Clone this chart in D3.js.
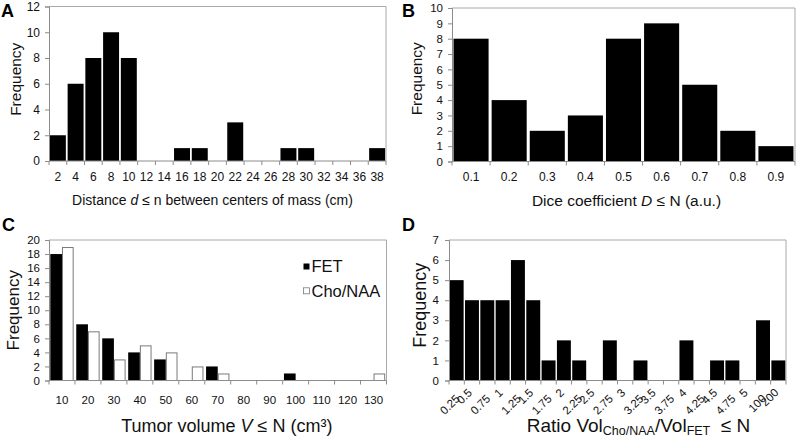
<!DOCTYPE html>
<html><head><meta charset="utf-8">
<script src="https://cdn.jsdelivr.net/npm/d3@7"></script>
<style>
html,body{margin:0;padding:0;background:#fff;}
svg{display:block;font-family:"Liberation Sans",Arial,sans-serif;}
</style></head>
<body><svg id="c" width="797" height="437"></svg>
<script>
// ---- data ----
const distCategories = ["2","4","6","8","10","12","14","16","18","20","22","24","26","28","30","32","34","36","38"];
const distFreq = [2,6,8,10,8,0,0,1,1,0,3,0,0,1,1,0,0,0,1];
const distYTicks = [0,2,4,6,8,10,12];

const diceCategories = ["0.1","0.2","0.3","0.4","0.5","0.6","0.7","0.8","0.9"];
const diceFreq = [8,4,2,3,8,9,5,2,1];
const diceYTicks = [0,1,2,3,4,5,6,7,8,9,10];

const volCategories = ["10","20","30","40","50","60","70","80","90","100","110","120","130"];
const volFET = [18,8,6,4,3,0,2,0,0,1,0,0,0];
const volCho = [19,7,3,5,4,2,1,0,0,0,0,0,1];
const volYTicks = [0,2,4,6,8,10,12,14,16,18,20];
const volSeries = ["FET","Cho/NAA"];

const ratioCategories = ["0.25","0.5","0.75","1","1.25","1.5","1.75","2","2.25","2.5","2.75","3","3.25","3.5","3.75","4","4.25","4.5","4.75","5","100","200"];
const ratioFreq = [5,4,4,4,6,4,1,2,1,0,2,0,1,0,0,2,0,1,1,0,3,1];
const ratioYTicks = [0,1,2,3,4,5,6,7];

const svg = d3.select("#c");
const AXIS = "#8c8c8c", BORDER = "#a8a8a8", TXT = "#111";

function panel(p){
  const g = svg.append("g");
  const x = d3.scaleBand().domain(p.cats).range([p.left,p.right]).paddingInner(p.pad).paddingOuter(p.pad/2);
  const y = d3.scaleLinear().domain([0,p.yTicks[p.yTicks.length-1]]).range([p.bottom,p.top]);
  // plot border (top/right)
  g.append("path").attr("d",`M${p.left},${p.top}H${p.right}V${p.bottom}`)
    .attr("fill","none").attr("stroke",BORDER).attr("stroke-width",1);
  // bars
  p.series.forEach((s,si)=>{
    const sub = d3.scaleBand().domain(d3.range(p.series.length)).range([0,x.bandwidth()]);
    const hollow = s.fill==="#fff";
    g.selectAll(null).data(s.values.map((v,i)=>({c:p.cats[i],v}))).join("rect")
      .filter(d=>d.v>0)
      .attr("x",d=>x(d.c)+sub(si)+(hollow?0.5:0))
      .attr("width",sub.bandwidth()-(hollow?1:0))
      .attr("y",d=>y(d.v)+(hollow?0.5:0))
      .attr("height",d=>p.bottom-y(d.v)-(hollow?0.5:0))
      .attr("fill",s.fill).attr("stroke",hollow?"#7a7a7a":"none").attr("stroke-width",1);
  });
  // y axis
  const ya = g.append("g").attr("transform",`translate(${p.left},0)`)
    .call(d3.axisLeft(y).tickValues(p.yTicks).tickSize(4).tickPadding(p.yPad).tickFormat(d3.format("d")));
  ya.select(".domain").attr("stroke",AXIS);
  ya.selectAll(".tick line").attr("stroke",AXIS);
  ya.selectAll(".tick text").attr("fill",TXT).style("font-size",p.yFont+"px").style("font-family","'Liberation Sans',Arial,sans-serif");
  // x axis: line + ticks at category boundaries
  const bx = d3.scaleLinear().domain([0,p.cats.length]).range([p.left,p.right]);
  g.append("line").attr("x1",p.left).attr("x2",p.right).attr("y1",p.bottom).attr("y2",p.bottom).attr("stroke",AXIS);
  g.selectAll(null).data(d3.range(p.cats.length+1)).join("line")
    .attr("x1",d=>bx(d)).attr("x2",d=>bx(d)).attr("y1",p.bottom).attr("y2",p.bottom+4).attr("stroke",AXIS);
  // x labels
  if(!p.rotate){
    g.selectAll(null).data(p.cats).join("text")
      .attr("x",d=>x(d)+x.bandwidth()/2).attr("y",p.xLabY).attr("text-anchor","middle")
      .attr("fill",TXT).style("font-size",p.xFont+"px").text(d=>d);
  } else {
    g.selectAll(null).data(p.cats).join("text")
      .attr("transform",(d,i)=>{
        const cx = x(d)+x.bandwidth()/2;
        const low = i%2===0;
        return `translate(${cx+(low?1:-2)},${p.bottom+(low?16:10)}) rotate(-45)`;
      })
      .attr("text-anchor","end").attr("dy","0.35em")
      .attr("fill",TXT).style("font-size",p.xFont+"px").text(d=>d);
  }
  // y title
  g.append("text").attr("transform",`translate(${p.freqX},${(p.top+p.bottom)/2+p.freqDy}) rotate(-90)`)
    .attr("text-anchor","middle").attr("dy","0.35em").attr("fill",TXT)
    .style("font-size",p.freqFont+"px").text("Frequency");
  // x title
  const t = g.append("text").attr("x",(p.left+p.right)/2+p.titleDx).attr("y",p.titleY)
    .attr("text-anchor","middle").attr("fill",TXT).style("font-size",p.titleFont+"px");
  p.title(t);
  // panel letter
  g.append("text").attr("x",p.letter[0]).attr("y",p.letter[1]).attr("fill","#000")
    .style("font-size","18px").style("font-weight","bold").text(p.letter[2]);
  return {g,x,y};
}

panel({cats:distCategories, series:[{values:distFreq,fill:"#000"}], yTicks:distYTicks,
  left:49, right:386, top:6.5, bottom:161, pad:0.1, yFont:12, yPad:5, xFont:12, xLabY:181,
  freqX:16, freqDy:-4.5, freqFont:15.5, titleY:205, titleFont:14, titleDx:-5, letter:[1,17,"A"],
  title:t=>{t.append("tspan").text("Distance ");t.append("tspan").style("font-style","italic").text("d");t.append("tspan").text(" ≤ n between centers of mass (cm)");}});

panel({cats:diceCategories, series:[{values:diceFreq,fill:"#000"}], yTicks:diceYTicks,
  left:452, right:795, top:8, bottom:161.5, pad:0.08, yFont:11.5, yPad:5, xFont:12, xLabY:181,
  freqX:417, freqDy:-6, freqFont:15.5, titleY:205.5, titleFont:15.5, titleDx:3, letter:[402,17,"B"],
  title:t=>{t.append("tspan").text("Dice coefficient ");t.append("tspan").style("font-style","italic").text("D");t.append("tspan").text(" ≤ N (a.u.)");}});

const pc = panel({cats:volCategories, series:[{values:volFET,fill:"#000"},{values:volCho,fill:"#fff"}], yTicks:volYTicks,
  left:49, right:386.5, top:240, bottom:380.5, pad:0.1, yFont:11.5, yPad:5, xFont:11.5, xLabY:403.5,
  freqX:13, freqDy:0, freqFont:17, titleY:431.5, titleFont:18, titleDx:9, letter:[2,231,"C"],
  title:t=>{t.append("tspan").text("Tumor volume ");t.append("tspan").style("font-style","italic").text("V");t.append("tspan").text(" ≤ N (cm³)");}});

// legend for C
const lg = pc.g.append("g");
volSeries.forEach((s,i)=>{
  const yy = 266.7 + i*24.3;
  lg.append("rect").attr("x",303.5).attr("y",yy-3.2).attr("width",6).attr("height",6)
    .attr("fill",i===0?"#000":"#fff").attr("stroke",i===0?"none":"#7a7a7a").attr("stroke-width",0.8);
  lg.append("text").attr("x",311.5).attr("y",yy).attr("dy","0.35em").attr("fill",TXT)
    .style("font-size","16.5px").text(s);
});

panel({cats:ratioCategories, series:[{values:ratioFreq,fill:"#000"}], yTicks:ratioYTicks,
  left:449, right:786, top:240, bottom:380.5, pad:0.09, yFont:11.5, yPad:6, xFont:11.5, rotate:true,
  freqX:420, freqDy:-5, freqFont:18, titleY:431.5, titleFont:19, titleDx:21, letter:[402,231,"D"],
  title:t=>{t.append("tspan").text("Ratio Vol");t.append("tspan").attr("dy",3).style("font-size","12.5px").text("Cho/NAA");
    t.append("tspan").attr("dy",-3).text("/Vol");t.append("tspan").attr("dy",3).style("font-size","12.5px").text("FET");
    t.append("tspan").attr("dy",-3).text("\u00a0\u00a0≤ N");}});
</script></body></html>
